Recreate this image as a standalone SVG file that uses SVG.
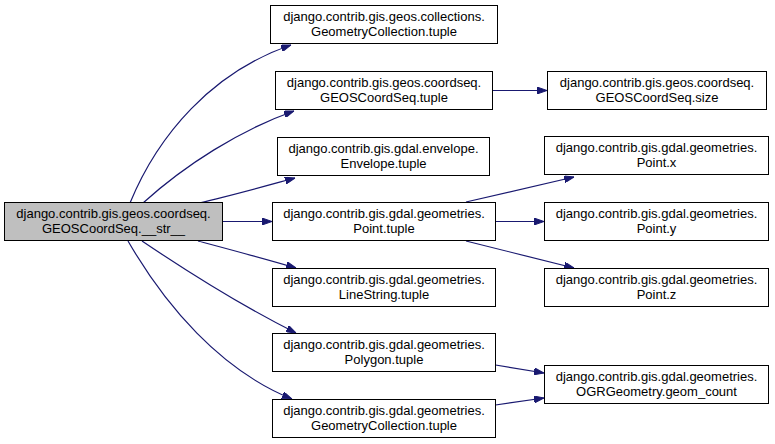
<svg xmlns="http://www.w3.org/2000/svg" width="775" height="444" viewBox="0 0 775 444">
<style>
.n rect{fill:#ffffff;stroke:#000000;stroke-width:1}
#root rect{fill:#bfbfbf}
.n text{font-family:"Liberation Sans",Arial,sans-serif;font-size:13px;fill:#000000;text-anchor:middle}
.e path{fill:none;stroke:#191970;stroke-width:1.2;marker-end:url(#ah)}
</style>
<defs>
<marker id="ah" viewBox="0 0 10 7" refX="10" refY="3.5" markerWidth="10" markerHeight="7" markerUnits="userSpaceOnUse" orient="auto">
<path d="M0,0 L10,3.5 L0,7 z" fill="#191970" stroke="#191970" stroke-width="1"/>
</marker>
</defs>
<rect width="775" height="444" fill="#ffffff"/>
<g class="e" id="connectors">
<path d="M130,203 C158,135 212,72 291,45"/>
<path d="M143,203 C185,165 240,130 294,111"/>
<path d="M199,203 C230,196 262,187 295,178"/>
<path d="M222.5,221.5 L272,221.5"/>
<path d="M198,241 C228,249 262,258 296,268"/>
<path d="M142,241 C185,270 240,305 296,333"/>
<path d="M128,241 C165,305 220,370 292,399"/>
<path d="M492.5,90.5 L547,90.5"/>
<path d="M466,202 L574,177"/>
<path d="M495.5,221.5 L544,221.5"/>
<path d="M466,241 L574,268"/>
<path d="M495.5,365 L544,373"/>
<path d="M495.5,405 L544,398"/>
</g>
<g class="n" id="root"><rect x="4.5" y="202.5" width="218" height="38"/><text x="113.5" y="218">django.contrib.gis.geos.coordseq.</text><text x="113.5" y="233">GEOSCoordSeq.__str__</text></g>
<g class="n" id="geos_collection_tuple"><rect x="270.5" y="5.5" width="227" height="38"/><text x="384" y="21">django.contrib.gis.geos.collections.</text><text x="384" y="36">GeometryCollection.tuple</text></g>
<g class="n" id="coordseq_tuple"><rect x="275.5" y="71.5" width="217" height="38"/><text x="384" y="87">django.contrib.gis.geos.coordseq.</text><text x="384" y="102">GEOSCoordSeq.tuple</text></g>
<g class="n" id="coordseq_size"><rect x="547.5" y="71.5" width="219" height="38"/><text x="657" y="87">django.contrib.gis.geos.coordseq.</text><text x="657" y="102">GEOSCoordSeq.size</text></g>
<g class="n" id="envelope_tuple"><rect x="277.5" y="137.5" width="212" height="38"/><text x="383.5" y="153">django.contrib.gis.gdal.envelope.</text><text x="383.5" y="168">Envelope.tuple</text></g>
<g class="n" id="point_tuple"><rect x="272.5" y="202.5" width="223" height="38"/><text x="384" y="218">django.contrib.gis.gdal.geometries.</text><text x="384" y="233">Point.tuple</text></g>
<g class="n" id="point_x"><rect x="544.5" y="136.5" width="224" height="38"/><text x="656.5" y="152">django.contrib.gis.gdal.geometries.</text><text x="656.5" y="167">Point.x</text></g>
<g class="n" id="point_y"><rect x="544.5" y="202.5" width="224" height="38"/><text x="656.5" y="218">django.contrib.gis.gdal.geometries.</text><text x="656.5" y="233">Point.y</text></g>
<g class="n" id="point_z"><rect x="544.5" y="268.5" width="224" height="38"/><text x="656.5" y="284">django.contrib.gis.gdal.geometries.</text><text x="656.5" y="299">Point.z</text></g>
<g class="n" id="linestring_tuple"><rect x="272.5" y="268.5" width="223" height="38"/><text x="384" y="284">django.contrib.gis.gdal.geometries.</text><text x="384" y="299">LineString.tuple</text></g>
<g class="n" id="polygon_tuple"><rect x="272.5" y="333.5" width="223" height="38"/><text x="384" y="349">django.contrib.gis.gdal.geometries.</text><text x="384" y="364">Polygon.tuple</text></g>
<g class="n" id="gdal_collection_tuple"><rect x="272.5" y="399.5" width="223" height="38"/><text x="384" y="415">django.contrib.gis.gdal.geometries.</text><text x="384" y="430">GeometryCollection.tuple</text></g>
<g class="n" id="geom_count"><rect x="544.5" y="365.5" width="224" height="38"/><text x="656.5" y="381">django.contrib.gis.gdal.geometries.</text><text x="656.5" y="396">OGRGeometry.geom_count</text></g>
</svg>
